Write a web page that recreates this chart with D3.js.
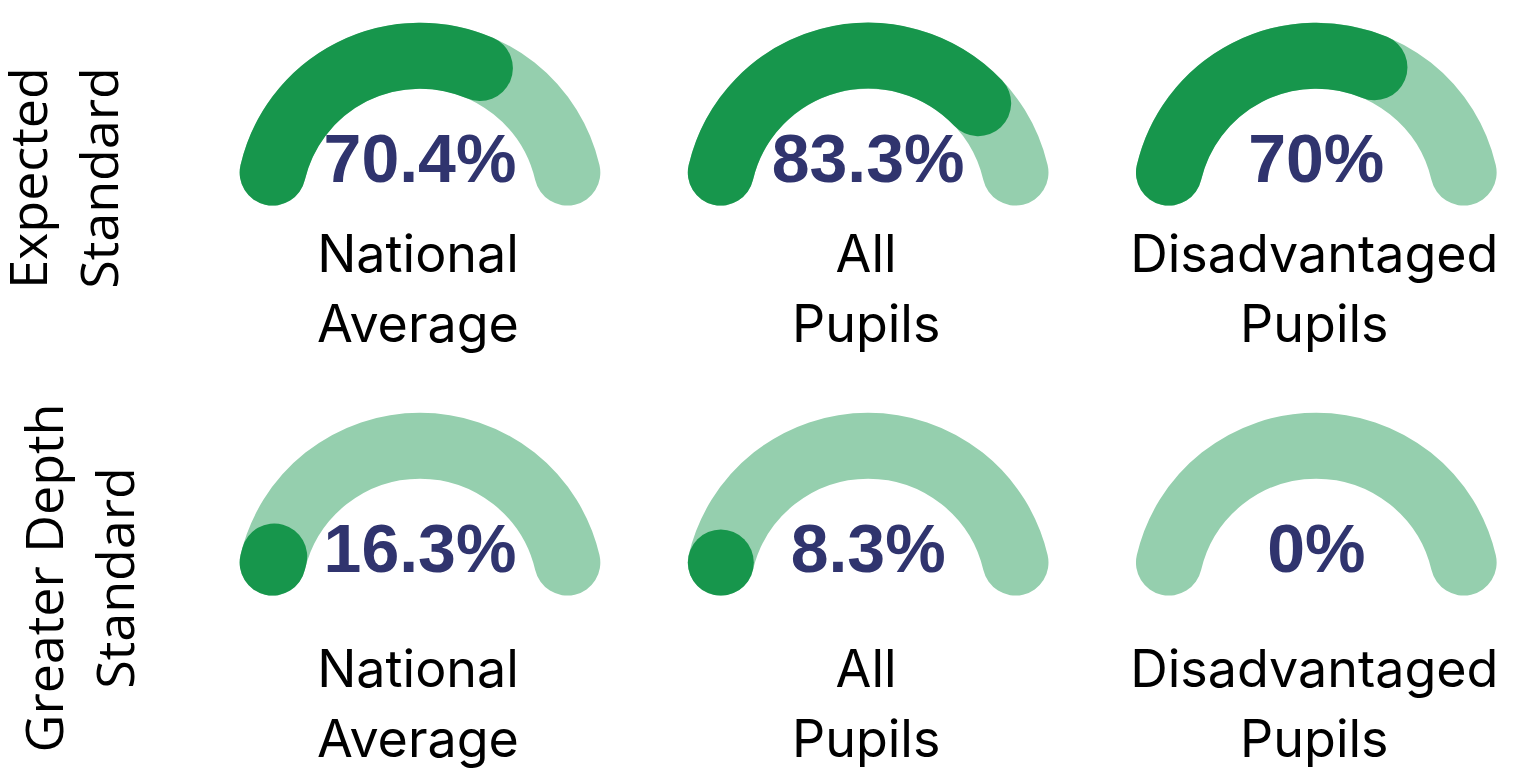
<!DOCTYPE html>
<html>
<head>
<meta charset="utf-8">
<script src="https://cdn.jsdelivr.net/npm/d3@7"></script>
<style>
  html, body { margin: 0; padding: 0; background: #ffffff; }
  svg { display: block; }
</style>
</head>
<body>
<svg id="chart" width="1516" height="769"></svg>
<script>
// Attainment gauges: share of pupils reaching each standard
const rowLabels = [["Expected", "Standard"], ["Greater Depth", "Standard"]];
const groupLabels = [["National", "Average"], ["All", "Pupils"], ["Disadvantaged", "Pupils"]];
const expectedValues = [70.4, 83.3, 70];
const greaterDepthValues = [16.3, 8.3, 0];
const gaugeDomain = [15, 100];

const rows = [expectedValues, greaterDepthValues];

const svg = d3.select("#chart");

// layout
const gaugeX = d3.scalePoint().domain(d3.range(groupLabels.length)).range([420, 1316.3]);
const gaugeY = d3.scalePoint().domain(d3.range(rows.length)).range([207, 597]);
const labelBase = d3.scalePoint().domain(d3.range(rows.length)).range([272, 687]);
const rowLabelCenter = d3.scalePoint().domain(d3.range(rows.length)).range([178, 578]);
const rowLabelBase = d3.scalePoint().domain(d3.range(rows.length)).range([47, 63]);

const R = 151.3;        // radius of the gauge track centre line
const bandWidth = 66;   // thickness of the track
const sweep = 76.85;    // half-sweep of the track in degrees from vertical

const angle = d3.scaleLinear().domain(gaugeDomain).range([-sweep, sweep]).clamp(true);
const rad = d => (d - 90) * Math.PI / 180;

function arcPath(cx, cy, a0, a1) {
  const p = d3.path();
  p.moveTo(cx + R * Math.cos(rad(a0)), cy + R * Math.sin(rad(a0)));
  if (a1 > a0) p.arc(cx, cy, R, rad(a0), rad(a1), false);
  p.lineTo(cx + R * Math.cos(rad(a1)), cy + R * Math.sin(rad(a1)));
  return p.toString();
}

const COL_TRACK = "#95cfae";
const COL_FILL = "#17964c";
const COL_VALUE = "#30346e";

rows.forEach((values, r) => {
  const cy = gaugeY(r);

  // row heading, rotated
  const head = svg.append("text")
    .attr("transform", `translate(${rowLabelBase(r)},${rowLabelCenter(r)}) rotate(-90)`)
    .attr("text-anchor", "middle")
    .attr("font-family", "'Open Sans', 'Noto Sans', sans-serif")
    .attr("font-size", 52)
    .attr("fill", "#000");
  rowLabels[r].forEach((line, i) => {
    head.append("tspan").attr("x", 0).attr("y", i * 71).text(line);
  });

  values.forEach((v, c) => {
    const cx = gaugeX(c);
    const g = svg.append("g");

    g.append("path")
      .attr("d", arcPath(cx, cy, -sweep, sweep))
      .attr("fill", "none")
      .attr("stroke", COL_TRACK)
      .attr("stroke-width", bandWidth)
      .attr("stroke-linecap", "round");

    if (v > 0) {
      g.append("path")
        .attr("d", arcPath(cx, cy, -sweep, angle(v)))
        .attr("fill", "none")
        .attr("stroke", COL_FILL)
        .attr("stroke-width", bandWidth)
        .attr("stroke-linecap", "round");
    }

    g.append("text")
      .attr("x", cx)
      .attr("y", cy - 25)
      .attr("text-anchor", "middle")
      .attr("font-family", "'Liberation Sans', Arial, sans-serif")
      .attr("font-weight", "bold")
      .attr("font-size", 68)
      .attr("fill", COL_VALUE)
      .text(`${v}%`);

    const lbl = g.append("text")
      .attr("text-anchor", "middle")
      .attr("font-family", "Inter, 'Noto Sans', sans-serif")
      .attr("font-size", 52)
      .attr("fill", "#000");
    groupLabels[c].forEach((line, i) => {
      lbl.append("tspan").attr("x", cx - 2).attr("y", labelBase(r) + i * 70).text(line);
    });
  });
});
</script>
</body>
</html>
